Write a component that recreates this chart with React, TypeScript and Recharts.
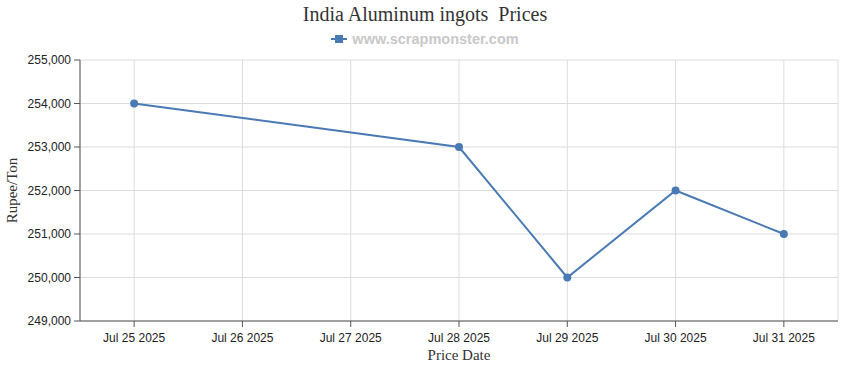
import React from 'react';
import { LineChart, Line, XAxis, YAxis, CartesianGrid } from 'recharts';

const priceDates = ['2025-07-25', '2025-07-28', '2025-07-29', '2025-07-30', '2025-07-31'];
const prices = [254000, 253000, 250000, 252000, 251000];
const tickDates = ['2025-07-25', '2025-07-26', '2025-07-27', '2025-07-28', '2025-07-29', '2025-07-30', '2025-07-31'];
const yTicks = [249000, 250000, 251000, 252000, 253000, 254000, 255000];
const months = ['Jan', 'Feb', 'Mar', 'Apr', 'May', 'Jun', 'Jul', 'Aug', 'Sep', 'Oct', 'Nov', 'Dec'];

const DAY = 86400000;
const toT = (s: string) => Date.parse(s + 'T00:00:00Z');
const data = priceDates.map((d, i) => ({ t: toT(d), price: prices[i] }));
const xTicks = tickDates.map(toT);
const xDomain = [xTicks[0] - DAY / 2, xTicks[xTicks.length - 1] + DAY / 2];

const fmtDate = (v: number) => {
  const d = new Date(v);
  return `${months[d.getUTCMonth()]} ${d.getUTCDate()} ${d.getUTCFullYear()}`;
};
const fmtNum = (v: number) => v.toLocaleString('en-US');

const LINE = '#4a7ab4';

const Header = () => (
  <>
    <div style={{ position: 'absolute', top: 3, left: 0, width: 850, textAlign: 'center', fontFamily: '"Liberation Serif", serif', fontSize: 20, color: '#333', whiteSpace: 'pre' }}>
      {'India Aluminum ingots  Prices'}
    </div>
    <div style={{ position: 'absolute', top: 31, left: 0, width: 850, display: 'flex', justifyContent: 'center', alignItems: 'center' }}>
      <svg width={16} height={10} style={{ marginRight: 5 }}>
        <line x1={0} y1={5} x2={16} y2={5} stroke={LINE} strokeWidth={2} />
        <rect x={4} y={1} width={8} height={8} fill={LINE} />
      </svg>
      <span style={{ fontFamily: '"Liberation Sans", Arial, sans-serif', fontWeight: 'bold', fontSize: 14.5, color: '#c8c8c8' }}>
        www.scrapmonster.com
      </span>
    </div>
  </>
);

export default function App() {
  return (
    <div style={{ position: 'absolute', left: 0, top: 0, width: 850, height: 370, background: '#fff' }}>
      <LineChart width={850} height={370} data={data} margin={{ top: 60, right: 12, bottom: 19, left: 0 }}>
        <CartesianGrid stroke="#dcdcdc" strokeWidth={1} />
        <XAxis
          dataKey="t"
          type="number"
          scale="time"
          domain={xDomain}
          ticks={xTicks}
          tickFormatter={fmtDate}
          stroke="#555"
          height={30}
          tick={{ fill: '#222', fontSize: 12, fontFamily: '"Liberation Sans", Arial, sans-serif' }}
          tickSize={6}
          tickMargin={6}
          label={{ value: 'Price Date', position: 'insideBottom', offset: -9, fill: '#333', fontSize: 15, fontFamily: '"Liberation Serif", serif' }}
        />
        <YAxis
          type="number"
          domain={[249000, 255000]}
          ticks={yTicks}
          tickFormatter={fmtNum}
          width={80}
          stroke="#555"
          tick={{ fill: '#222', fontSize: 12, fontFamily: '"Liberation Sans", Arial, sans-serif' }}
          tickSize={6}
          tickMargin={3}
          label={{ value: 'Rupee/Ton', angle: -90, position: 'insideLeft', offset: 12, fill: '#333', fontSize: 15, fontFamily: '"Liberation Serif", serif', style: { textAnchor: 'middle' } }}
        />
        <Line
          type="linear"
          dataKey="price"
          stroke={LINE}
          strokeWidth={2}
          dot={{ r: 4, fill: LINE, stroke: LINE, strokeWidth: 0 }}
          isAnimationActive={false}
        />
      </LineChart>
      <Header />
    </div>
  );
}
